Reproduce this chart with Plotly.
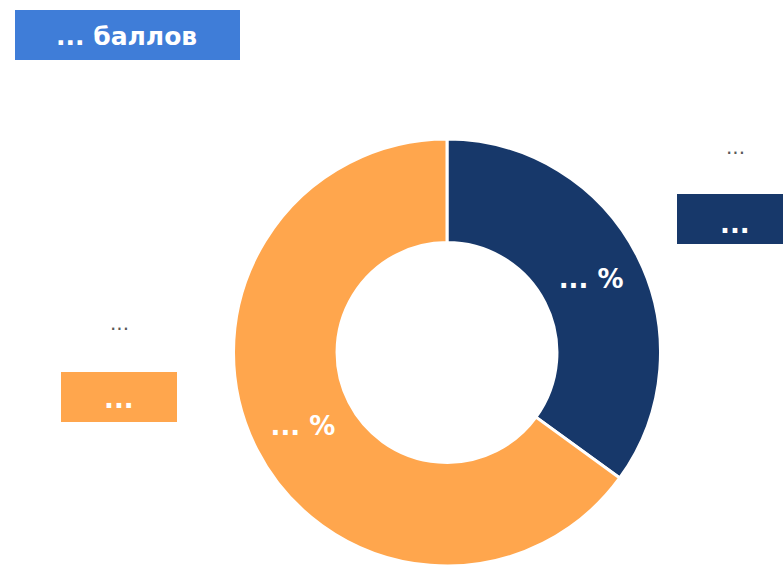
import plotly.graph_objects as go

W, H = 783, 566

# Slice data
categories = ["Группа A", "Группа B"]
shares = [35, 65]
slice_text = ["... %", "... %"]
colors = ["#17386A", "#FFA64D"]

# Legend-style captions
caption_small = ["...", "..."]
caption_box = ["...", "..."]
title_text = "... баллов"


def px(x):
    return x / W


def py(y):
    return 1 - y / H


fig = go.Figure()
fig.add_trace(go.Pie(
    labels=categories,
    values=shares,
    text=slice_text,
    textinfo="text",
    hole=0.515,
    sort=False,
    direction="clockwise",
    rotation=0,
    marker=dict(colors=colors, line=dict(color="white", width=3)),
    textfont=dict(color="white", size=26, family="DejaVu Sans", weight="bold"),
    insidetextorientation="horizontal",
    textposition="inside",
    showlegend=False,
    hoverinfo="label+percent",
    domain=dict(x=[px(233), px(661)], y=[0, py(139)]),
))

shapes = []
annotations = []

# Title box
shapes.append(dict(type="rect", xref="paper", yref="paper",
                   x0=px(15), x1=px(240), y0=py(60), y1=py(10),
                   fillcolor="#3F7DD8", line=dict(width=0), layer="below"))
annotations.append(dict(xref="paper", yref="paper", x=px(127), y=py(36),
                        text=title_text, showarrow=False,
                        font=dict(color="white", size=25, family="DejaVu Sans", weight="bold"),
                        xanchor="center", yanchor="middle"))

# Caption boxes for each slice: (small text center, box extents, box text center)
caption_layout = [
    dict(small=(735, 147), box=(677, 790, 194, 244), label=(735, 224)),
    dict(small=(119, 323), box=(61, 177, 372, 422), label=(119, 399)),
]
for i, cl in enumerate(caption_layout):
    sx, sy = cl["small"]
    annotations.append(dict(xref="paper", yref="paper", x=px(sx), y=py(sy),
                            text=caption_small[i], showarrow=False,
                            font=dict(color="#595959", size=20, family="DejaVu Sans"),
                            xanchor="center", yanchor="middle"))
    x0, x1, y0, y1 = cl["box"]
    shapes.append(dict(type="rect", xref="paper", yref="paper",
                       x0=px(x0), x1=px(x1), y0=py(y1), y1=py(y0),
                       fillcolor=colors[i], line=dict(width=0), layer="below"))
    lx, ly = cl["label"]
    annotations.append(dict(xref="paper", yref="paper", x=px(lx), y=py(ly),
                            text=caption_box[i], showarrow=False,
                            font=dict(color="white", size=26, family="DejaVu Sans", weight="bold"),
                            xanchor="center", yanchor="middle"))

fig.update_layout(
    width=W, height=H,
    margin=dict(l=0, r=0, t=0, b=0),
    paper_bgcolor="white",
    plot_bgcolor="white",
    shapes=shapes,
    annotations=annotations,
)

fig.write_html("out.html")
